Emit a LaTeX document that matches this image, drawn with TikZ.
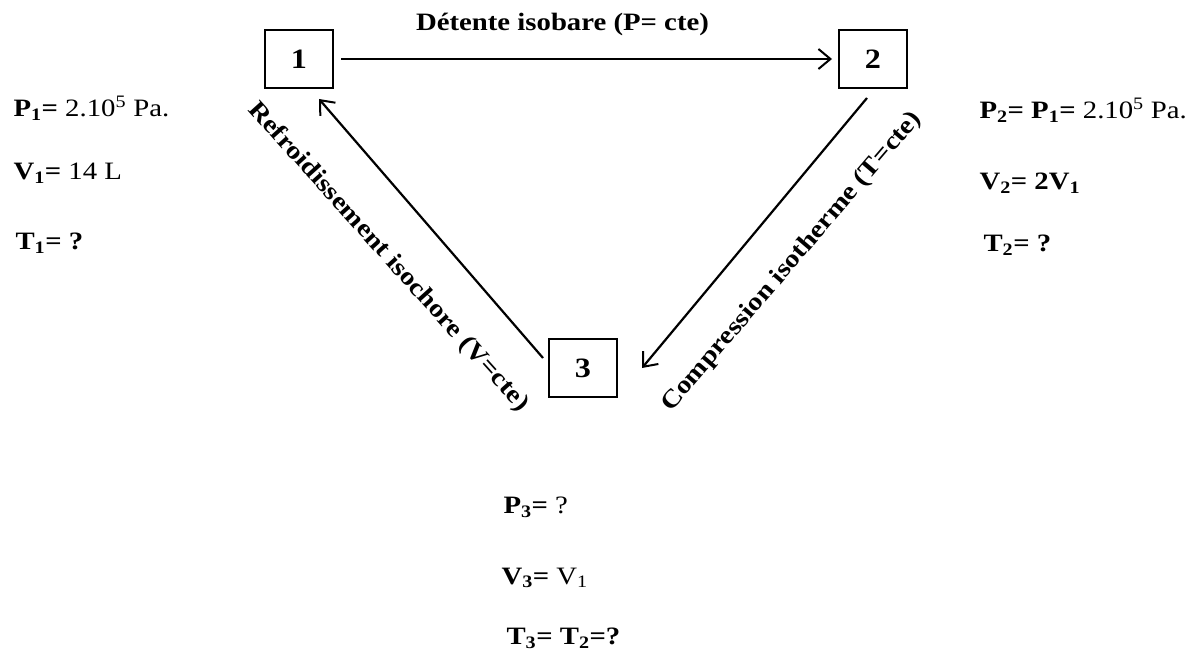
\documentclass[tikz,border=0pt]{standalone}
\usepackage{fontspec}
\setmainfont{Liberation Serif}[FakeStretch=1.15]
\usetikzlibrary{arrows, arrows.meta, positioning}

\begin{document}
\begin{tikzpicture}[x=1pt, y=-1pt]

\tikzset{state/.style = {shape=rectangle, draw, line width=2pt, minimum width=68pt, minimum height=58pt, font=\fontsize{28}{30}\selectfont\bfseries}}
\tikzset{edge/.style = {->, > = {Straight Barb[length=12pt, width=20pt, line width=2pt]}, line width=2.2pt}}
\tikzset{lab/.style = {font=\fontsize{25}{29}\selectfont\bfseries}}
\tikzset{info/.style = {anchor=west, font=\fontsize{25}{29}\selectfont}}
\useasboundingbox (0,0) rectangle (1197,652);
% states
\node[state] (b1) at (299,59) {1};
\node[state] (b2) at (873,59) {2};
\node[state] (b3) at (583,368) {3};
% transitions
\draw[edge] ([xshift=7pt]b1.east) -- node[lab, above=19pt, xshift=-24pt] (l12) {Détente isobare (P= cte)} ([xshift=-6pt]b2.west);
\draw[edge] ([shift={(-5,20)}]b3.north west) -- ([shift={(55,10)}]b1.south west);
\draw[edge] ([shift={(29,9)}]b2.south west) -- ([shift={(24,30)}]b3.north east);
\node[lab, rotate=-48] (l31) at (388,257) {Refroidissement isochore (V=cte)};
\node[lab, rotate=49.5] (l23) at (792,262) {Compression isotherme (T=cte)};
% state 1
\node[info] (p1) at (10,108) {\textbf{P\textsubscript{1}=} 2.10\textsuperscript{5} Pa.};
\node[info] (v1) at (10,173) {\textbf{V\textsubscript{1}=} 14 L};
\node[info] (t1) at (12,243) {\textbf{T\textsubscript{1}= ?}};
% state 2
\node[info] (p2) at (976,110) {\textbf{P\textsubscript{2}= P\textsubscript{1}=} 2.10\textsuperscript{5} Pa.};
\node[info] (v2) at (976,183) {\textbf{V\textsubscript{2}= 2V\textsubscript{1}}};
\node[info] (t2) at (980,245) {\textbf{T\textsubscript{2}= ?}};
% state 3
\node[info] (p3) at (500,507) {\textbf{P\textsubscript{3}=} ?};
\node[info] (v3) at (498,578) {\textbf{V\textsubscript{3}=} V\textsubscript{1}};
\node[info] (t3) at (503,638) {\textbf{T\textsubscript{3}= T\textsubscript{2}=?}};
\end{tikzpicture}
\end{document}
